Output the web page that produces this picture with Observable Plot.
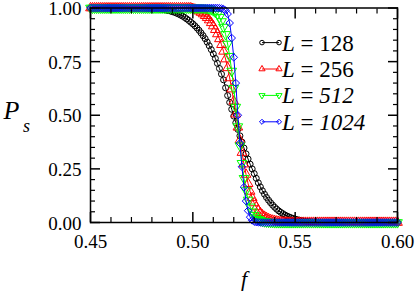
<!DOCTYPE html>
<html><head><meta charset="utf-8">
<script src="https://cdn.jsdelivr.net/npm/d3@7"></script>
<script src="https://cdn.jsdelivr.net/npm/@observablehq/plot@0.6"></script>
<style>html,body{margin:0;padding:0;background:#fff;} #chart{width:415px;height:292px;}</style>
</head><body><div id="chart"></div>
<script>
// System sizes (legend) and colours
const sizes = ["128", "256", "512", "1024"];
const colors = ["#000000", "#ff0000", "#00ff00", "#0000ff"];

// f grid: 0.450 .. 0.600, step 0.001 (151 samples)
const fStart = 0.45, fStep = 0.001;

// P_s values
const ps128 = [
  1,1,1,1,1,1,1,1,1,1, 1,1,1,1,1,1,1,1,1,1, 1,1,1,1,1,1,1,1,
  0.999,0.999,0.998,0.998,0.997,0.996,0.995,0.994,0.992,0.990,
  0.988,0.986,0.983,0.980,0.976,0.972,0.967,0.962,0.956,0.949,
  0.942,0.934,0.926,0.917,0.907,0.896,0.884,0.871,0.857,0.841,
  0.824,0.806,0.786,0.765,0.742,0.718,0.692,0.665,0.628,0.592,
  0.560,0.528,0.496,0.465,0.434,0.404,0.375,0.347,0.320,0.296,
  0.272,0.250,0.228,0.206,0.185,0.166,0.148,0.132,0.117,0.104,
  0.092,0.081,0.071,0.062,0.054,0.047,0.041,0.035,0.030,0.026,
  0.022,0.019,0.016,0.013,0.011,0.009,0.007,0.006,0.005,0.004,
  0.003,0.002,0.002,0.001,0.001,
  0,0,0,0,0,0,0,0,0,0, 0,0,0,0,0,0,0,0,0,0, 0,0,0,0,0,0,0,0,0,0, 0,0,0,0,0,0,0,0
];
const ps256 = [
  1,1,1,1,1,1,1,1,1,1, 1,1,1,1,1,1,1,1,1,1, 1,1,1,1,1,1,1,1,1,1,
  1,1,1,1,1,1,1,1,1,1, 1,1,1,1,1,1,1,1,1,1,
  0.997,0.994,0.990,0.985,0.979,0.972,0.964,0.955,0.944,0.931,
  0.916,0.899,0.879,0.856,0.829,0.798,0.762,0.721,0.674,0.622,
  0.565,0.505,0.444,0.384,0.326,0.272,0.224,0.181,0.145,0.115,
  0.091,0.072,0.057,0.045,0.035,0.028,0.022,0.017,0.013,0.010,
  0.008,0.006,0.004,0.003,0.002,0.001,0.001,
  0,0,0,0,0,0,0,0,0,0, 0,0,0,0,0,0,0,0,0,0, 0,0,0,0,0,0,0,0,0,0,
  0,0,0,0,0,0,0,0,0,0, 0,0,0,0,0,0,0,0,0,0, 0,0,0,0
];
const ps512 = [
  1,1,1,1,1,1,1,1,1,1, 1,1,1,1,1,1,1,1,1,1, 1,1,1,1,1,1,1,1,1,1,
  1,1,1,1,1,1,1,1,1,1, 1,1,1,1,1,1,1,1,1,1, 1,1,1,1,1,1,
  0.999,0.998,0.996,0.993,0.988,0.981,0.971,0.957,0.937,0.911,
  0.877,0.832,0.775,0.706,0.626,0.538,0.447,0.358,0.276,0.206,
  0.149,0.105,0.073,0.050,0.034,0.023,0.015,0.010,0.006,0.004,
  0.003,0.002,0.001,0.001,
  0,0,0,0,0,0,0,0,0,0, 0,0,0,0,0,0,0,0,0,0, 0,0,0,0,0,0,0,0,0,0,
  0,0,0,0,0,0,0,0,0,0, 0,0,0,0,0,0,0,0,0,0, 0,0,0,0,0,0,0,0,0,0, 0
];
const ps1024 = [
  1,1,1,1,1,1,1,1,1,1, 1,1,1,1,1,1,1,1,1,1, 1,1,1,1,1,1,1,1,1,1,
  1,1,1,1,1,1,1,1,1,1, 1,1,1,1,1,1,1,1,1,1, 1,1,1,1,1,1,1,1,1,1, 1,1,1,
  0.999,0.998,0.995,0.988,0.972,0.930,0.860,0.770,0.650,0.500,
  0.370,0.260,0.165,0.100,0.055,0.025,0.010,0.004,0.002,0.001,
  0,0,0,0,0,0,0,0,0,0, 0,0,0,0,0,0,0,0,0,0, 0,0,0,0,0,0,0,0,0,0,
  0,0,0,0,0,0,0,0,0,0, 0,0,0,0,0,0,0,0,0,0, 0,0,0,0,0,0,0,0,0,0,
  0,0,0,0,0,0,0,0
];

// Tick values
const xTicks = [0.45, 0.50, 0.55, 0.60];
const xMinor = [0.46,0.47,0.48,0.49,0.51,0.52,0.53,0.54,0.56,0.57,0.58,0.59];
const yTicks = [0, 0.25, 0.5, 0.75, 1];
const yMinor = [0.05,0.10,0.15,0.20,0.30,0.35,0.40,0.45,0.55,0.60,0.65,0.70,0.80,0.85,0.90,0.95];

const seriesValues = [ps128, ps256, ps512, ps1024];

const triDown = {draw(ctx, size) {
  const y = -Math.sqrt(size / (Math.sqrt(3) * 3));
  ctx.moveTo(0, -y * 2); ctx.lineTo(-Math.sqrt(3) * y, y); ctx.lineTo(Math.sqrt(3) * y, y); ctx.closePath();
}};
const symbols = ["circle", "triangle", triDown, "diamond2"];
const radii = [3, 3.6, 3.6, 3.4];

const tables = seriesValues.map((vals) => vals.map((v, i) => ({f: +(fStart + i * fStep).toFixed(3), ps: v})));

const font = "Liberation Serif, Liberation Sans, serif";
const blank = () => "";

const marks = [];
tables.forEach((rows, k) => {
  marks.push(Plot.line(rows, {x: "f", y: "ps", stroke: colors[k], strokeWidth: 1}));
  marks.push(Plot.dot(rows, {x: "f", y: "ps", stroke: colors[k], fill: "none", symbol: symbols[k], r: radii[k], strokeWidth: 1}));
});

marks.push(
  Plot.frame({stroke: "#000", strokeWidth: 1.5}),
  Plot.axisX({ticks: xTicks, anchor: "bottom", tickSize: 0, tickPadding: 12, tickFormat: d3.format(".2f"), fontSize: 19, fontFamily: font, fill: "#000", label: null}),
  Plot.axisY({ticks: yTicks, anchor: "left", tickSize: 0, tickPadding: 9, dy: 1, tickFormat: d3.format(".2f"), fontSize: 19, fontFamily: font, fill: "#000", label: null}),
  Plot.axisX({ticks: xTicks, anchor: "bottom", tickSize: -10, tickFormat: blank, label: null, stroke: "#000", strokeWidth: 1.5}),
  Plot.axisX({ticks: xMinor, anchor: "bottom", tickSize: -5, tickFormat: blank, label: null, stroke: "#000", strokeWidth: 1.2}),
  Plot.axisX({ticks: xTicks, anchor: "top", tickSize: -10, tickFormat: blank, label: null, stroke: "#000", strokeWidth: 1.5}),
  Plot.axisX({ticks: xMinor, anchor: "top", tickSize: -5, tickFormat: blank, label: null, stroke: "#000", strokeWidth: 1.2}),
  Plot.axisY({ticks: yTicks, anchor: "left", tickSize: -10, tickFormat: blank, label: null, stroke: "#000", strokeWidth: 1.5}),
  Plot.axisY({ticks: yMinor, anchor: "left", tickSize: -5, tickFormat: blank, label: null, stroke: "#000", strokeWidth: 1.2}),
  Plot.axisY({ticks: yTicks, anchor: "right", tickSize: -10, tickFormat: blank, label: null, stroke: "#000", strokeWidth: 1.5}),
  Plot.axisY({ticks: yMinor, anchor: "right", tickSize: -5, tickFormat: blank, label: null, stroke: "#000", strokeWidth: 1.2}),
  Plot.text(["f"], {frameAnchor: "bottom", dy: 63, fontSize: 22, fontStyle: "italic", fontFamily: font, fill: "#000", lineAnchor: "bottom"}),
  Plot.text(["P"], {frameAnchor: "left", dx: -79, dy: 4, fontSize: 26, fontStyle: "italic", fontFamily: font, fill: "#000", textAnchor: "middle", lineAnchor: "bottom"}),
  Plot.text(["s"], {frameAnchor: "left", dx: -64, dy: 17, fontSize: 18, fontStyle: "italic", fontFamily: font, fill: "#000", textAnchor: "middle", lineAnchor: "bottom"})
);

const chart = Plot.plot({
  width: 415, height: 292,
  marginLeft: 90, marginRight: 18, marginTop: 7.5, marginBottom: 70,
  x: {domain: [0.45, 0.60], axis: null},
  y: {domain: [0, 1], axis: null},
  style: {fontFamily: font, background: "#fff", overflow: "visible"},
  marks
});
document.getElementById("chart").appendChild(chart);

// Legend
const svg = d3.select(chart);
const lg = svg.append("g").attr("font-family", font).attr("font-size", 23).attr("text-anchor", "start");
const italicNumber = [false, false, true, true];
const symTypes = {circle: d3.symbolCircle, triangle: d3.symbolTriangle, diamond2: d3.symbolDiamond2};
sizes.forEach((s, k) => {
  const cy = 42.6 + k * 26.4;
  const row = lg.append("g").attr("transform", `translate(0,${cy})`);
  row.append("line").attr("x1", 262).attr("x2", 279).attr("y1", 0).attr("y2", 0).attr("stroke", colors[k]).attr("stroke-width", 1);
  const sym = d3.symbol().type(typeof symbols[k] === "string" ? symTypes[symbols[k]] : symbols[k]).size(Math.PI * 2.3 * 2.3);
  [262, 279].forEach(x => row.append("path").attr("d", sym()).attr("transform", `translate(${x},0)`).attr("fill", "none").attr("stroke", colors[k]).attr("stroke-width", 1));
  const t = row.append("text").attr("x", 282).attr("y", 8).attr("fill", "#000").attr("text-anchor", "start").style("white-space", "pre");
  t.append("tspan").attr("font-style", "italic").text("L");
  t.append("tspan").text(" = ");
  t.append("tspan").attr("font-style", italicNumber[k] ? "italic" : "normal").text(s);
});
</script>
</body></html>
